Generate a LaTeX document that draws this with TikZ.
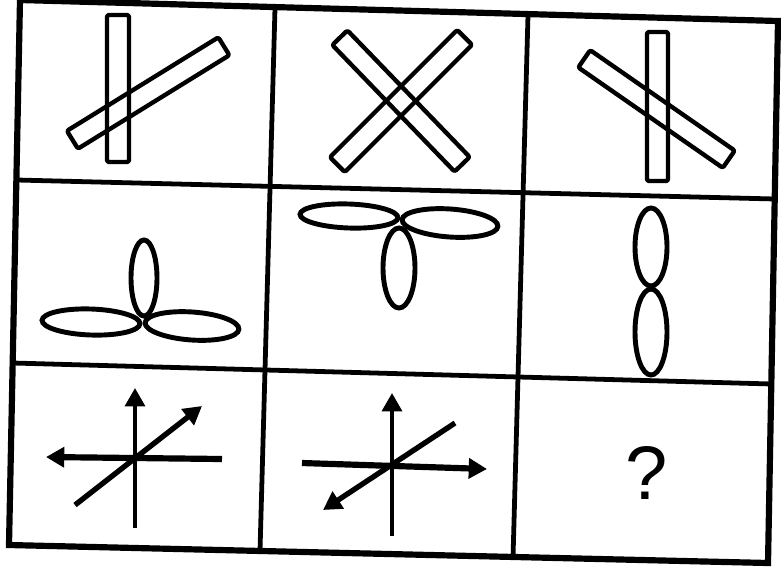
\documentclass[tikz,border=0pt]{standalone}
\usepackage{fontspec}
\newfontfamily\qfont{Liberation Sans}
\usetikzlibrary{arrows.meta}
\begin{document}
\begin{tikzpicture}[x=0.025cm,y=-0.025cm,
  outerline/.style={line width=4.4pt, line join=miter, line cap=rect},
  innerline/.style={line width=3.4pt},
  bar/.style={line width=3.1pt, rounded corners=1.5pt, line join=round},
  petal/.style={line width=3.5pt},
  ahead/.style={-{Triangle[length=13pt,width=14pt]}},
  thinax/.style={ahead, line width=2.8pt},
  thickax/.style={ahead, line width=4.4pt},
  midax/.style={ahead, line width=3.8pt}
]
\useasboundingbox[fill=white] (0,0) rectangle (781,568);
% grid corners
\coordinate (TL) at (20,0);
\coordinate (TR) at (778,21);
\coordinate (BL) at (9,545);
\coordinate (BR) at (768,563);
\coordinate (R1a) at (17,180);
\coordinate (R1b) at (775,199);
\coordinate (R2a) at (13,363);
\coordinate (R2b) at (772,384);
\coordinate (C1a) at (275,8);
\coordinate (C1b) at (260,551);
\coordinate (C2a) at (528,15);
\coordinate (C2b) at (513,558);
\draw[innerline] (R1a) -- (R1b);
\draw[innerline] (R2a) -- (R2b);
\draw[innerline] (C1a) -- (C1b);
\draw[innerline] (C2a) -- (C2b);
\draw[outerline] (TL) -- (TR) -- (BR) -- (BL) -- cycle;

% row 1, cell 1
\draw[bar] (107,15) rectangle (129,162);
\draw[bar, rotate around={31.7:(149,92.5)}] (59,82) rectangle (237,103);
% row 1, cell 2
\draw[bar, rotate around={-46:(401,101)}] (313,90.5) rectangle (489,111.5);
\draw[bar, rotate around={45:(401,101)}] (311,90.5) rectangle (491,111.5);
% row 1, cell 3
\draw[bar] (647,32) rectangle (668,181);
\draw[bar, rotate around={-34.8:(656.5,109)}] (568.5,98.5) rectangle (744.5,119.5);

% row 2, cell 1
\draw[petal] (144,278) ellipse [x radius=13, y radius=38];
\draw[petal, rotate around={-2:(91,322)}] (91,322) ellipse [x radius=49, y radius=13];
\draw[petal, rotate around={-4:(192,326)}] (192,326) ellipse [x radius=47, y radius=14];
% row 2, cell 2
\draw[petal, rotate around={-2:(349,216)}] (349,216) ellipse [x radius=49, y radius=12];
\draw[petal, rotate around={-4:(450,223)}] (450,223) ellipse [x radius=48, y radius=14];
\draw[petal] (399,268) ellipse [x radius=16, y radius=40];
% row 2, cell 3
\draw[petal] (651,247) ellipse [x radius=16, y radius=39];
\draw[petal] (651,332) ellipse [x radius=16, y radius=43];

% row 3, cell 1
\coordinate (a1v0) at (135,528);
\coordinate (a1v1) at (135,388);
\coordinate (a1h0) at (222,459);
\coordinate (a1h1) at (46,457);
\coordinate (a1d0) at (75,505);
\coordinate (a1d1) at (202,406);
\draw[thinax] (a1v0) -- (a1v1);
\draw[thickax] (a1h0) -- (a1h1);
\draw[midax] (a1d0) -- (a1d1);
% row 3, cell 2
\coordinate (a2v0) at (392,536);
\coordinate (a2v1) at (392,393);
\coordinate (a2h0) at (302,463);
\coordinate (a2h1) at (487,469);
\coordinate (a2d0) at (455,423);
\coordinate (a2d1) at (323,510);
\draw[thinax] (a2v0) -- (a2v1);
\draw[thickax] (a2h0) -- (a2h1);
\draw[midax] (a2d0) -- (a2d1);
% row 3, cell 3
\node[font=\qfont\fontsize{54}{54}\selectfont, inner sep=0pt] (q) at (647,473) {?};
\end{tikzpicture}
\end{document}
